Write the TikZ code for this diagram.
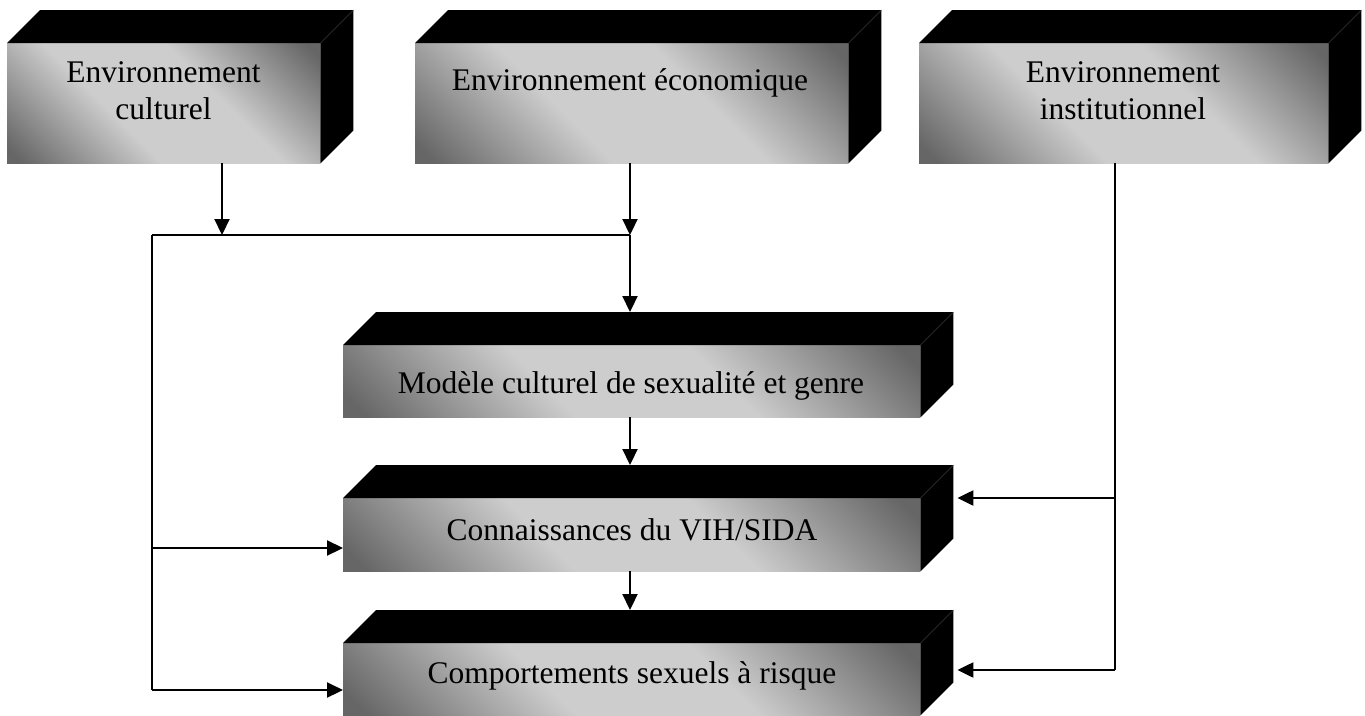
\documentclass[tikz,border=0pt]{standalone}
\usepackage{fontspec}
\setmainfont{Liberation Serif}
\usetikzlibrary{arrows.meta,calc}
\definecolor{mdark}{HTML}{666666}
\definecolor{mlight}{HTML}{CDCDCD}
\definecolor{edgegray}{HTML}{3A3A3A}
\pgfdeclarehorizontalshading{metal}{100bp}{color(0bp)=(mdark); color(17bp)=(mdark); color(40bp)=(mlight); color(60bp)=(mlight); color(83bp)=(mdark); color(100bp)=(mdark)}
\begin{document}
\begin{tikzpicture}[x=1pt,y=-1pt,
  front/.style={rectangle, inner sep=0pt, anchor=north west, shading=metal, shading angle=45},
  lbl/.style={font=\fontsize{31.5}{37}\selectfont, align=center, inner sep=0pt},
  link/.style={line width=1.7pt},
  thinlink/.style={line width=1.2pt},
  arr/.style={line width=2.2pt, -{Triangle[length=16pt,width=15pt]}}]
\useasboundingbox (0,0) rectangle (1365,715);

% front faces
\node[front, minimum width=313pt, minimum height=120pt] (cult) at (7,43) {};
\node[front, minimum width=433pt, minimum height=120pt] (econ) at (415,43) {};
\node[front, minimum width=409pt, minimum height=120pt] (inst) at (919,43) {};
\node[front, minimum width=577pt, minimum height=72pt] (mod) at (343,345) {};
\node[front, minimum width=577pt, minimum height=73pt] (conn) at (343,498) {};
\node[front, minimum width=577pt, minimum height=72pt] (comp) at (343,643) {};

% top and side faces
\foreach \n in {cult,econ,inst,mod,conn,comp}{
  \fill (\n.north west) -- ($(\n.north west)+(33,-33)$) -- ($(\n.north east)+(33,-33)$)
        -- ($(\n.south east)+(33,-33)$) -- (\n.south east) -- (\n.north east) -- cycle;
  \draw[edgegray, line width=0.5pt] (\n.north east) -- ($(\n.north east)+(33,-33)$);
}

% texts
\node[lbl] (tcult) at (163.5,91) {Environnement\\culturel};
\node[lbl, anchor=base] (tecon) at (630,90) {Environnement économique};
\node[lbl] (tinst) at (1123,91) {Environnement\\institutionnel};
\node[lbl, anchor=base] (tmod) at (631,393) {Modèle culturel de sexualité et genre};
\node[lbl, anchor=base] (tconn) at (632,540) {Connaissances du VIH/SIDA};
\node[lbl, anchor=base] (tcomp) at (632,683) {Comportements sexuels à risque};

% junctions
\coordinate (jL) at (152,235);
\coordinate (jC) at (222,235);
\coordinate (jE) at (630,235);
\coordinate (kC) at (152,548);
\coordinate (kB) at (152,690);
\coordinate (rC) at (1115,498);
\coordinate (rB) at (1115,670);

% connectors
\draw[link] (jL) -- (jE);
\draw[link] (jL) -- (kB);
\draw[arr] (cult.south -| jC) -- (jC);
\draw[arr] (econ.south -| jE) -- (jE);
\draw[arr] (jE) -- ($(mod.north -| jE)+(0,-33)$);
\draw[arr] (kC) -- (kC -| conn.west);
\draw[arr] (kB) -- (kB -| comp.west);
\draw[arr] (mod.south -| jE) -- ($(conn.north -| jE)+(0,-33)$);
\draw[arr] (conn.south -| jE) -- ($(comp.north -| jE)+(0,-33)$);
\draw[thinlink] (inst.south -| rC) -- (rB);
\draw[arr] (rC) -- ($(rC -| conn.east)+(37,0)$);
\draw[arr] (rB) -- ($(rB -| comp.east)+(37,0)$);
\end{tikzpicture}
\end{document}
